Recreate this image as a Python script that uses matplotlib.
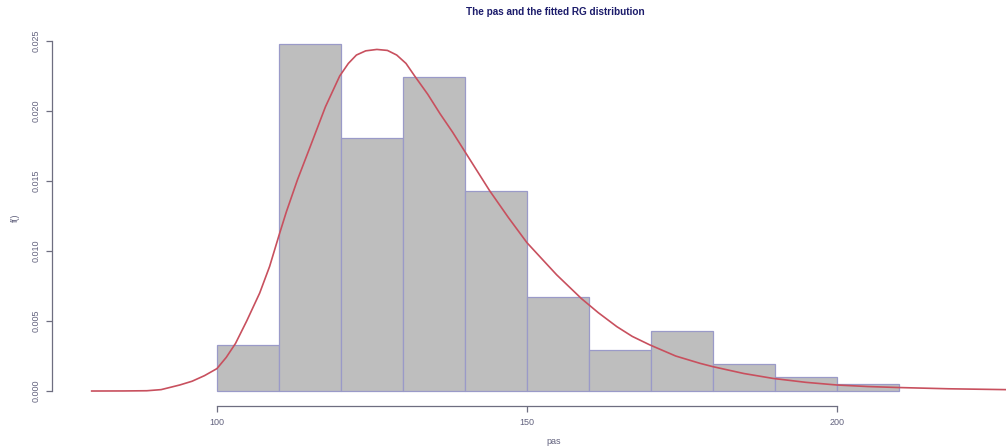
import numpy as np
import matplotlib
matplotlib.use("Agg")
import matplotlib.pyplot as plt

plt.rcParams['font.family'] = ['Liberation Sans', 'DejaVu Sans']

# histogram of pas (density scale), bins of width 10
bin_edges = [100, 110, 120, 130, 140, 150, 160, 170, 180, 190, 200, 210]
density = [0.0033, 0.0248, 0.0181, 0.0224, 0.0143, 0.0067,
           0.0029, 0.0043, 0.0019, 0.0010, 0.0005]

# fitted RG density
curve_x = [79.8, 85.0, 88.7, 91.0, 94.0, 96.0, 98.0, 100.0, 101.5, 103.0,
           104.8, 106.9, 108.5, 110.0, 111.2, 113.0, 115.0, 117.5, 119.8,
           121.2, 122.5, 124.0, 125.8, 127.5, 129.0, 130.5, 131.9, 134.0,
           136.0, 138.0, 140.0, 142.0, 144.0, 147.0, 150.0, 152.5, 154.8,
           158.8, 161.5, 164.5, 167.0, 169.8, 174.0, 177.9, 180.0, 185.0,
           189.7, 195.0, 200.0, 205.0, 209.9, 218.0, 227.1, 235.0]
curve_y = [0.0, 0.000005, 0.00002, 0.0001, 0.00043, 0.0007, 0.0011, 0.0016,
           0.0024, 0.0034, 0.0050, 0.0070, 0.0089, 0.0111, 0.0128, 0.0151,
           0.0174, 0.0203, 0.0225, 0.0234, 0.0240, 0.02430, 0.02440, 0.02433,
           0.0240, 0.0234, 0.0225, 0.0212, 0.0198, 0.0185, 0.0171, 0.0157,
           0.0143, 0.0124, 0.0106, 0.0094, 0.0083, 0.0066, 0.0056, 0.0046,
           0.0039, 0.0033, 0.0025, 0.00198, 0.00174, 0.00125, 0.0009,
           0.00062, 0.00043, 0.00032, 0.00025, 0.00016, 0.0001, 0.00007]

xticks = [100, 150, 200]
yticks = [0.000, 0.005, 0.010, 0.015, 0.020, 0.025]

axis_col = '#6e6e80'
label_col = '#62627e'

fig = plt.figure(figsize=(10.06, 4.46), dpi=100)
ax = fig.add_axes([52 / 1006, 40 / 446, 1005 / 1006, 405 / 446])
ax.set_xlim(73.4, 235.5)
ax.set_ylim(-0.00107, 0.02786)

lefts = bin_edges[:-1]
widths = np.diff(bin_edges)
ax.bar(lefts, density, width=widths, align='edge', color='#bebebe',
       edgecolor='#9a9ac8', linewidth=0.9)
ax.plot(curve_x, curve_y, color='#c8505e', linewidth=1.2, clip_on=False,
        solid_joinstyle='round')

for s in ['top', 'right']:
    ax.spines[s].set_visible(False)
ax.spines['left'].set_bounds(0, 0.025)
ax.spines['bottom'].set_bounds(100, 200)
for s in ['left', 'bottom']:
    ax.spines[s].set_color(axis_col)
    ax.spines[s].set_linewidth(0.9)

ax.set_xticks(xticks)
ax.set_xticklabels([str(t) for t in xticks])
ax.set_yticks(yticks)
ax.set_yticklabels(['%.3f' % t for t in yticks], rotation=90, va='center')
ax.tick_params(axis='both', length=4, width=0.9, color=axis_col,
               labelcolor=label_col, labelsize=6.5, pad=4.5)

fig.text(555 / 1006, 1 - 12 / 446, 'The pas and the fitted RG distribution',
         ha='center', va='center', fontsize=7.2, fontweight='bold', color='#1c1c6b')
fig.text(554 / 1006, 1 - 441 / 446, 'pas', ha='center', va='center',
         fontsize=6.5, color=label_col)
fig.text(15 / 1006, 1 - 218 / 446, 'f()', ha='center', va='center',
         rotation=90, fontsize=6.5, color=label_col)

fig.savefig('out.png', dpi=100)
